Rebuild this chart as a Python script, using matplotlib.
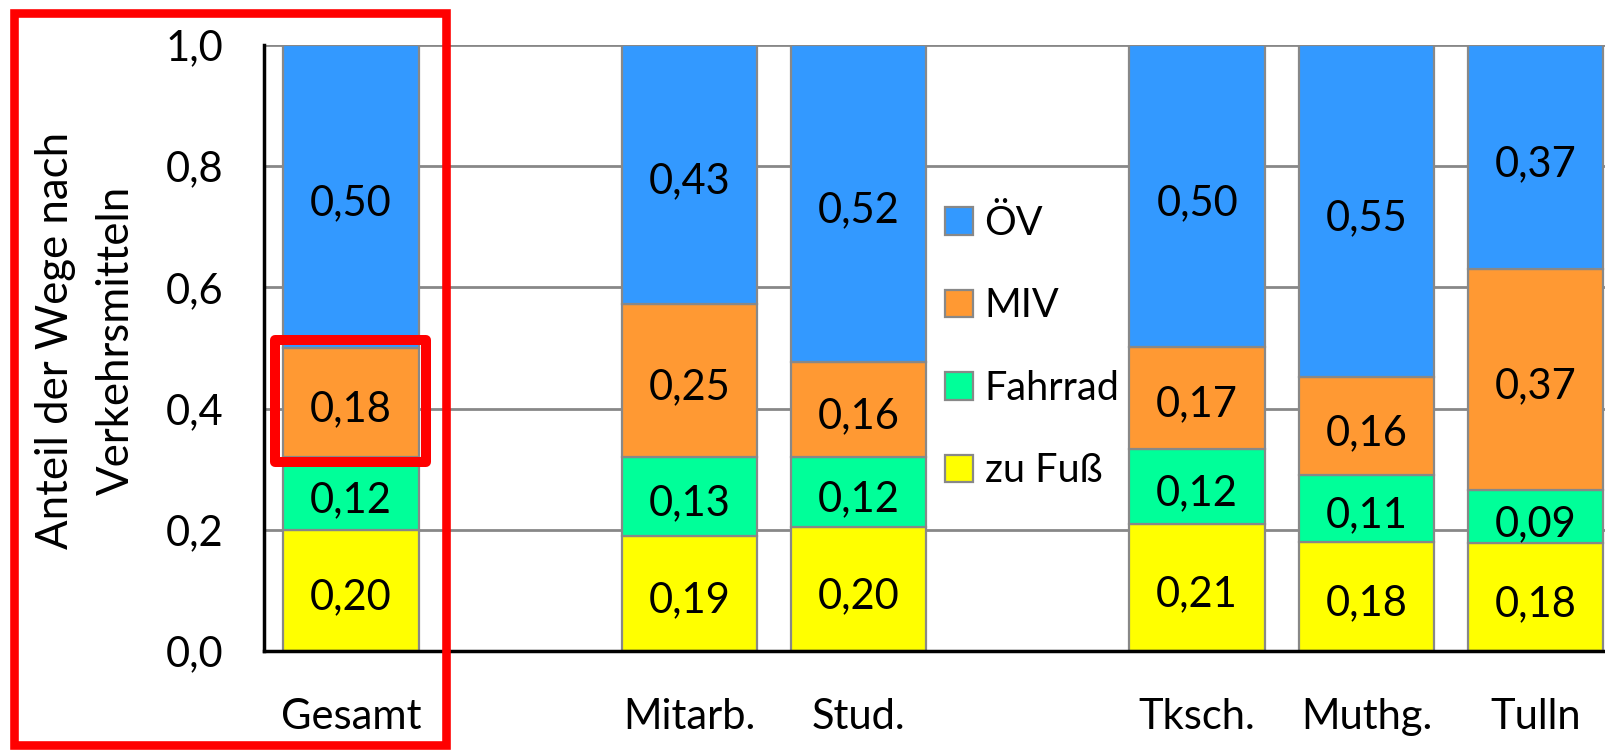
import matplotlib
matplotlib.use('Agg')
import matplotlib.pyplot as plt
from matplotlib.patches import Rectangle
from matplotlib.ticker import FuncFormatter

plt.rcParams['font.family'] = ['Lato', 'DejaVu Sans']

# data
categories = ['Gesamt', 'Mitarb.', 'Stud.', 'Tksch.', 'Muthg.', 'Tulln']
positions = [0, 2, 3, 5, 6, 7]
zu_fuss = [0.20, 0.19, 0.204, 0.21, 0.18, 0.178]
fahrrad = [0.12, 0.13, 0.116, 0.124, 0.11, 0.087]
miv = [0.18, 0.253, 0.157, 0.168, 0.162, 0.366]
oev = [0.50, 0.427, 0.523, 0.498, 0.548, 0.369]

series = [('zu Fuß', zu_fuss, '#FFFF00'),
          ('Fahrrad', fahrrad, '#00FF99'),
          ('MIV', miv, '#FF9933'),
          ('ÖV', oev, '#3399FF')]

def fmt(v):
    return f'{v:.2f}'.replace('.', ',')

fig = plt.figure(figsize=(16.05, 7.5), dpi=100)
ax = fig.add_axes([264/1605, 99/750, 1341/1605, 606/750])

w = 0.8
bottom = [0.0] * len(categories)
bars = {}
for name, vals, col in series:
    b = ax.bar(positions, vals, w, bottom=bottom, color=col,
               edgecolor='#888888', linewidth=1.6, label=name, zorder=2)
    bars[name] = b
    for x, v, b0 in zip(positions, vals, bottom):
        ax.annotate(fmt(v), (x, b0 + v/2), xytext=(0, -5), textcoords='offset points',
                    ha='center', va='center', fontsize=30, color='black', zorder=3)
    bottom = [b0 + v for b0, v in zip(bottom, vals)]

ax.set_xlim(-0.514, 7.41)
ax.set_ylim(0, 1)
ax.set_yticks([0, 0.2, 0.4, 0.6, 0.8, 1.0])
ax.yaxis.set_major_formatter(FuncFormatter(lambda v, p: f'{v:.1f}'.replace('.', ',')))
ax.set_xticks(positions, categories)
ax.tick_params(axis='y', length=0, pad=29, labelsize=30)
ax.tick_params(axis='x', length=0, pad=34, labelsize=30)

ax.yaxis.grid(True, color='#888888', linewidth=2)
ax.set_axisbelow(True)
for s in ['top', 'right']:
    ax.spines[s].set_visible(False)
for s in ['left', 'bottom']:
    ax.spines[s].set_color('black')
    ax.spines[s].set_linewidth(2.5)

# white legend background between Stud. and Tksch.
x0 = positions[2] + w/2
x1 = positions[3] - w/2
ax.add_patch(Rectangle((x0, 0.205), x1 - x0, 0.59, facecolor='white',
                       edgecolor='none', zorder=1))

handles = [bars[n] for n in ['ÖV', 'MIV', 'Fahrrad', 'zu Fuß']]
ax.legend(handles, ['ÖV', 'MIV', 'Fahrrad', 'zu Fuß'], loc='center left',
          bbox_to_anchor=(945/1605, 1 - 347/750), bbox_transform=fig.transFigure,
          frameon=False, fontsize=28.5, handlelength=0.7, handleheight=0.7,
          handletextpad=0.3, labelspacing=1.15, borderpad=0, borderaxespad=0)

fig.text(86/1605, 1 - 340/750, 'Anteil der Wege nach\nVerkehrsmitteln',
         rotation=90, ha='center', va='center', multialignment='center',
         fontsize=31.5, linespacing=1.6)

# red highlight boxes
fig.patches.append(Rectangle((14/1605, 1 - 745/750), 432/1605, 732/750,
                             transform=fig.transFigure, fill=False,
                             edgecolor='red', linewidth=6.2))
ax.add_patch(Rectangle((positions[0] - w/2 - 0.047, 0.312), w + 0.088, 0.201,
                       fill=False, edgecolor='red', linewidth=7.2,
                       joinstyle='round', clip_on=False, zorder=5))

fig.savefig('out.png', dpi=100)
